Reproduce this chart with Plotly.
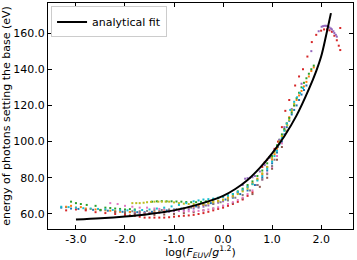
import plotly.graph_objects as go

# analytical fit curve
fit_x = [-3.0, -2.5, -2.0, -1.5, -1.0, -0.5, 0.0, 0.25, 0.5, 0.75, 1.0, 1.25, 1.5, 1.75, 1.9, 2.0, 2.1, 2.2]
fit_y = [56.9, 57.6, 58.6, 60.0, 62.0, 65.3, 70.0, 73.8, 78.8, 85.5, 93.5, 103.0, 114.5, 129.0, 139.0, 147.0, 158.5, 171.0]

blue_x = [-3.3, -3.2, -3.1, -2.95, -2.8, -2.65, -2.5, -2.35, -2.2, -2.05, -1.9, -1.75, -1.6, -1.45, -1.3, -1.15, -1.0, -0.85, -0.7, -0.55, -0.4, -0.25, -0.1, 0.05, 0.2, 0.35, 0.5, 0.65, 0.8, 0.9, 1.0, 1.1, 1.2, 1.25, 1.3, 1.35, 1.4, 1.45, 1.5, 1.55, 1.6, 1.65, 1.7]
blue_y = [63.5, 63.8, 63.0, 62.8, 62.5, 62.3, 62.0, 61.8, 61.5, 61.2, 61.0, 61.0, 61.0, 61.2, 61.5, 62.0, 62.5, 63.0, 63.5, 64.2, 65.0, 66.0, 67.0, 68.0, 69.0, 71.0, 73.0, 76.0, 80.0, 84.0, 88.0, 94.0, 100.0, 104.0, 108.0, 111.5, 115.0, 117.5, 120.0, 123.0, 126.0, 128.5, 131.0]

orange_x = [-3.2, -3.1, -3.0, -2.9, -2.8, -2.7, -2.6, -2.5, -2.4, -2.3, -2.2, -2.1, -2.0, -1.9, -1.8, -1.7, -1.6, -1.5, -1.4, -1.3, -1.2, -1.1, -1.0, -0.9, -0.8, -0.7, -0.6, -0.5, -0.4, -0.3, -0.2, -0.1, 0.0, 0.1, 0.2, 0.3, 0.4, 0.5, 0.6, 0.7, 0.8, 0.9, 1.0, 1.05, 1.1, 1.15, 1.2, 1.25, 1.3, 1.35, 1.4, 1.45, 1.5, 1.55, 1.6, 1.65, 1.7, 1.75, 1.8, 1.85]
orange_y = [64.0, 64.5, 63.5, 63.8, 63.0, 62.8, 62.5, 62.3, 62.0, 61.8, 61.5, 61.2, 61.0, 61.1, 61.0, 60.8, 60.5, 60.7, 61.0, 61.2, 61.5, 61.8, 62.0, 62.5, 63.0, 63.5, 64.0, 64.5, 65.0, 65.8, 66.5, 67.2, 68.0, 69.0, 70.0, 71.5, 73.0, 75.0, 77.0, 79.5, 82.0, 86.0, 90.0, 93.0, 96.0, 99.5, 103.0, 106.5, 110.0, 113.5, 117.0, 120.0, 123.0, 125.5, 128.0, 130.5, 133.0, 136.0, 139.0, 141.0]

green_x = [-3.1, -3.0, -2.9, -2.78, -2.6, -2.5, -2.4, -2.3, -2.2, -2.1, -2.0, -1.9, -1.8, -1.45, -1.35, -1.25, -1.15, -1.05, -0.95, -0.85, -0.75, -0.65, -0.55, -0.45, -0.35, -0.2, -0.1, 0.0, 0.1, 0.2, 0.3, 0.4, 0.5, 0.6, 0.7, 0.8, 0.9, 1.0, 1.05, 1.1, 1.15, 1.2, 1.25, 1.3, 1.35, 1.4, 1.45, 1.5, 1.55, 1.6, 1.65, 1.7, 1.75, 1.8, 1.85]
green_y = [66.8, 66.0, 65.5, 65.0, 64.5, 62.2, 63.5, 63.3, 63.0, 62.8, 62.5, 62.7, 62.5, 66.8, 67.0, 67.1, 67.0, 67.0, 66.9, 66.8, 66.6, 66.5, 66.5, 66.7, 67.0, 68.0, 68.7, 69.5, 70.2, 71.0, 72.5, 74.0, 76.0, 78.0, 81.0, 84.0, 88.0, 92.0, 95.0, 98.0, 101.0, 104.0, 107.0, 110.0, 113.0, 116.0, 120.0, 124.0, 127.0, 130.0, 132.5, 135.0, 137.5, 140.0, 142.0]

red_x = [-3.2, -3.0, -2.8, -2.6, -2.4, -2.2, -2.0, -1.9, -1.8, -1.7, -1.6, -1.5, -1.4, -1.3, -1.2, -1.1, -1.0, -0.9, -0.8, -0.7, -0.6, -0.5, -0.4, -0.3, -0.2, -0.1, 0.0, 0.1, 0.2, 0.3, 0.4, 0.5, 0.6, 0.7, 0.8, 0.85, 0.9, 0.95, 1.05, 1.12, 1.2, 1.27, 1.35, 1.47, 1.55, 1.63, 1.72, 1.81, 1.9, 2.0, 2.06, 2.12, 2.17, 2.22, 2.27, 2.32, 2.36, 2.39, 2.39]
red_y = [62.0, 62.5, 62.0, 61.0, 60.5, 60.0, 59.5, 59.2, 59.0, 58.5, 58.0, 58.0, 58.0, 58.0, 58.0, 58.2, 58.5, 58.8, 59.0, 59.2, 59.5, 60.0, 60.5, 61.2, 62.0, 62.8, 63.5, 64.5, 65.5, 66.7, 68.0, 70.0, 72.0, 76.0, 86.0, 88.5, 90.0, 91.5, 96.0, 100.0, 108.0, 117.0, 123.0, 131.0, 136.0, 140.0, 147.0, 155.0, 159.0, 161.3, 162.0, 162.0, 161.5, 160.7, 158.5, 156.0, 153.0, 150.6, 162.8]

purple_x = [-1.8, -1.7, -1.6, -1.5, -1.4, -1.3, -1.2, -1.1, -1.0, -0.9, -0.8, -0.7, -0.6, -0.5, -0.4, -0.3, -0.2, -0.1, 0.0, 0.1, 0.2, 0.3, 0.4, 0.45, 0.5, 0.55, 0.6, 0.65, 0.75, 0.85, 0.95, 1.05, 1.15, 1.25, 1.4, 1.6, 1.8, 1.95, 2.01, 2.04, 2.07, 2.1, 2.12, 2.15, 2.17, 2.2, 2.22, 2.25, 2.27, 2.3, 2.32]
purple_y = [60.5, 60.5, 60.5, 60.5, 60.5, 60.7, 61.0, 61.2, 61.5, 61.8, 62.0, 62.5, 63.0, 63.5, 64.0, 64.7, 65.5, 66.2, 67.0, 68.0, 69.5, 72.0, 76.0, 79.5, 79.8, 80.0, 80.3, 81.0, 83.5, 87.0, 91.0, 95.0, 101.0, 108.0, 118.0, 132.0, 150.0, 161.0, 163.5, 163.8, 164.0, 164.0, 163.9, 163.5, 163.0, 162.5, 162.0, 161.0, 160.0, 159.0, 158.0]

brown_x = [-2.2, -2.0, -1.8, -1.6, -1.4, -1.2, -1.0, -0.8, -0.6, -0.4, -0.2, 0.0, 0.2, 0.4, 0.6, 0.75, 0.9, 1.0, 1.1, 1.2]
brown_y = [61.0, 60.5, 60.0, 59.8, 59.5, 59.7, 60.0, 60.5, 61.0, 62.0, 63.0, 64.5, 66.0, 68.5, 71.0, 75.0, 80.0, 85.0, 90.0, 97.0]

pink_x = [-2.3, -2.15, -2.0, -1.85, -1.7, -1.55, -1.4, -1.3, -1.2, -1.1, -1.0, -0.9, -0.8, -0.7, -0.6, -0.5, -0.4, -0.3, -0.2, -0.1, 0.0, 0.1, 0.2, 0.3, 0.4, 0.5, 0.6, 0.7, 0.8, 0.9, 1.0, 1.1, 1.2, 1.3]
pink_y = [66.0, 65.5, 64.5, 64.0, 63.5, 63.5, 63.0, 62.8, 62.5, 62.2, 62.0, 61.8, 61.5, 61.5, 61.5, 61.7, 62.0, 62.5, 63.0, 63.7, 64.5, 65.5, 66.5, 67.7, 69.0, 71.0, 73.0, 76.0, 79.0, 82.5, 86.0, 92.0, 99.0, 106.0]

gray_x = [-2.0, -1.85, -1.7, -1.55, -1.4, -1.25, -1.1, -0.95, -0.8, -0.65, -0.5, -0.35, -0.2, -0.05, 0.1, 0.25, 0.4, 0.55, 0.7, 0.8, 0.9, 1.0, 1.05, 1.12]
gray_y = [61.5, 61.5, 61.5, 61.7, 62.0, 62.2, 62.5, 62.7, 63.0, 63.5, 64.0, 64.7, 65.5, 66.5, 67.5, 69.0, 70.5, 73.0, 76.0, 79.0, 82.0, 86.5, 90.0, 97.0]

olive_x = [-1.85, -1.77, -1.7, -1.62, -1.55, -1.47, -1.4, -1.32, -1.25, -1.17, -1.1, -1.0, -0.9, -0.8, -0.7, -0.6, -0.5, -0.4, -0.3, -0.2, -0.1, 0.0, 0.1, 0.2, 0.3, 0.4, 0.5, 0.6, 0.7, 0.8, 0.9, 1.0, 1.05, 1.1, 1.15, 1.2, 1.27, 1.31, 1.35, 1.4, 1.45]
olive_y = [66.0, 66.0, 66.0, 66.2, 66.5, 66.7, 66.8, 66.8, 66.8, 66.8, 66.8, 66.4, 66.0, 65.7, 65.5, 65.5, 65.5, 65.7, 66.0, 66.5, 67.0, 67.7, 68.5, 69.7, 71.0, 72.5, 74.0, 76.5, 79.0, 82.5, 86.0, 91.0, 94.0, 97.0, 100.0, 103.0, 106.0, 109.0, 112.0, 117.5, 121.0]

cyan_x = [-3.3, -3.15, -3.0, -2.85, -2.7, -2.55, -2.4, -2.25, -2.1, -1.95, -1.8, -1.65, -1.5, -1.35, -1.2, -1.05, -0.9, -0.75, -0.6, -0.5, -0.4, -0.3, -0.2, -0.1, 0.0, 0.1, 0.2, 0.3, 0.4, 0.5, 0.6, 0.7, 0.8, 0.9, 1.0, 1.05, 1.1, 1.15, 1.2, 1.25, 1.3, 1.37, 1.45, 1.51, 1.57, 1.63]
cyan_y = [64.0, 63.8, 63.5, 63.2, 63.0, 62.8, 62.5, 62.2, 62.0, 62.0, 62.0, 62.2, 62.5, 63.0, 63.5, 64.2, 65.0, 66.0, 67.0, 67.5, 68.0, 68.2, 68.5, 69.0, 69.5, 70.2, 71.0, 72.2, 73.5, 75.0, 76.5, 78.5, 81.0, 85.0, 89.0, 92.0, 95.0, 98.5, 102.0, 106.0, 110.0, 117.5, 122.0, 124.5, 126.8, 129.6]

series = [
    (blue_x, blue_y, "#1f77b4"),
    (orange_x, orange_y, "#ff7f0e"),
    (green_x, green_y, "#2ca02c"),
    (red_x, red_y, "#d62728"),
    (purple_x, purple_y, "#9467bd"),
    (brown_x, brown_y, "#8c564b"),
    (pink_x, pink_y, "#e377c2"),
    (gray_x, gray_y, "#7f7f7f"),
    (olive_x, olive_y, "#bcbd22"),
    (cyan_x, cyan_y, "#17becf"),
]

x_ticks = [-3.0, -2.0, -1.0, 0.0, 1.0, 2.0]
y_ticks = [60.0, 80.0, 100.0, 120.0, 140.0, 160.0]

fig = go.Figure()
for xs, ys, c in series:
    fig.add_trace(go.Scatter(x=xs, y=ys, mode="markers", showlegend=False,
                             marker=dict(color=c, size=2, symbol="square", line=dict(width=0))))

fig.add_trace(go.Scatter(x=fit_x, y=fit_y, mode="lines", name="analytical fit",
                         line=dict(color="black", width=2, shape="spline")))

axis_common = dict(showline=True, linecolor="black", linewidth=1, mirror="ticks",
                   ticks="inside", ticklen=4, tickcolor="black", showgrid=False,
                   zeroline=False, tickfont=dict(size=11, color="black"))

fig.update_layout(
    width=357, height=260,
    margin=dict(l=48, r=4, t=3, b=31),
    paper_bgcolor="white", plot_bgcolor="white",
    font=dict(family="DejaVu Sans", size=11, color="black"),
    showlegend=True,
    legend=dict(x=0.01, y=0.985, xanchor="left", yanchor="top",
                bordercolor="#cccccc", borderwidth=1, bgcolor="rgba(255,255,255,0.8)",
                font=dict(size=11), itemwidth=30),
    xaxis=dict(range=[-3.57, 2.65], tickvals=x_ticks, ticktext=[f"{v:.1f}" for v in x_ticks],
               title=dict(text="log(<i>F</i><sub><i>EUV</i></sub>/<i>g</i><sup>1.2</sup>)", standoff=3,
                          font=dict(size=11)),
               **axis_common),
    yaxis=dict(range=[51.7, 176.6], tickvals=y_ticks, ticktext=[f"{v:.1f}" for v in y_ticks],
               title=dict(text="energy of photons setting the base (eV)", standoff=3,
                          font=dict(size=11)),
               **axis_common),
)

fig.write_html("out.html", config={"displayModeBar": False},
               post_script="document.body.style.margin='0';document.body.style.padding='0';")
